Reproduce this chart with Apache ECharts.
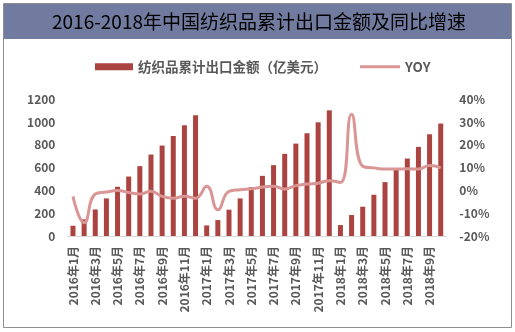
<!DOCTYPE html>
<html><head><meta charset="utf-8">
<script src="https://cdn.jsdelivr.net/npm/echarts@6/dist/echarts.min.js"></script>
<style>html,body{margin:0;padding:0;background:#fff}#c{width:515px;height:332px}</style>
</head><body><div id="c"></div>
<script>
const categories = [
 '2016年1月','2016年2月','2016年3月','2016年4月','2016年5月','2016年6月','2016年7月','2016年8月','2016年9月','2016年10月','2016年11月','2016年12月',
 '2017年1月','2017年2月','2017年3月','2017年4月','2017年5月','2017年6月','2017年7月','2017年8月','2017年9月','2017年10月','2017年11月','2017年12月',
 '2018年1月','2018年2月','2018年3月','2018年4月','2018年5月','2018年6月','2018年7月','2018年8月','2018年9月','2018年10月'];
const exportValues = [90,146,233,330,432,522,613,715,794,878,972,1060,
 93,140,231,330,429,528,622,721,811,902,998,1103,
 96,184,257,362,473,584,680,782,893,987];
const yoyValues = [-2.6,-14.2,-1.6,-0.7,0,-0.9,-1.6,-0.4,-2.6,-3.4,-2.6,-3.4,
 1.8,-8.5,-0.4,0.3,0.7,1.5,1.8,0.6,2.1,2.8,3.2,4.3,
 3.5,33.4,10.6,9.9,9.4,9.4,9.5,9.4,10.9,9.9];
const leftTicks = [0,1200,200];
const rightTicks = [-20,40,10];
const titleText = '2016-2018年中国纺织品累计出口金额及同比增速';
const barName = '纺织品累计出口金额（亿美元）';
const lineName = 'YOY';

const chart = echarts.init(document.getElementById('c'));
const font = '"Noto Sans CJK SC", sans-serif';
const legendText = {color:'#595959', fontWeight:'bold', fontSize:13.5, fontFamily:font};
chart.setOption({
  animation: false,
  graphic: [
    {type:'rect', shape:{x:3.5,y:3.5,width:508,height:324}, style:{fill:'#fff',stroke:'#8e8e8e',lineWidth:1}, z:-10},
    {type:'rect', shape:{x:4,y:4,width:507,height:35}, style:{fill:'#717b9f'}, z:-9},
    {type:'text', x:259, y:21.5, style:{text:titleText, fill:'#000', font:'19px '+font, align:'center', verticalAlign:'middle'}}
  ],
  legend: [
    {top: 55, left: 90, itemWidth: 38, itemHeight: 7, textStyle: legendText,
     data: [{name:barName, icon:'rect'}]},
    {top: 55, left: 355, itemWidth: 40, itemHeight: 3, textStyle: legendText,
     data: [{name:lineName, icon:'rect'}]}
  ],
  grid: {left:67.4, right:68.7, top:99.3, bottom:96, containLabel:false},
  xAxis: {
    type:'category', data:categories,
    axisLine:{lineStyle:{color:'#d9d9d9',width:1}},
    axisTick:{show:false},
    axisLabel:{interval:1, rotate:90, color:'#595959', fontSize:12, fontWeight:'bold', fontFamily:font, margin:10}
  },
  yAxis: [
    {type:'value', min:leftTicks[0], max:leftTicks[1], interval:leftTicks[2],
     splitLine:{show:false}, axisLine:{show:false}, axisTick:{show:false},
     axisLabel:{color:'#595959', fontSize:12, fontWeight:'bold', fontFamily:font, margin:12, formatter:function(v){return String(v);}}},
    {type:'value', min:rightTicks[0], max:rightTicks[1], interval:rightTicks[2],
     splitLine:{show:false}, axisLine:{show:false}, axisTick:{show:false},
     axisLabel:{color:'#595959', fontSize:12, fontWeight:'bold', fontFamily:font, margin:13, formatter:'{value}%'}}
  ],
  series: [
    {name:barName, type:'bar', data:exportValues, barWidth:5, itemStyle:{color:'#ab4340'}},
    {name:lineName, type:'line', yAxisIndex:1, data:yoyValues, smooth:0.5, symbol:'none',
     lineStyle:{color:'#d99694', width:3}, itemStyle:{color:'#d99694'}}
  ]
});
</script></body></html>
